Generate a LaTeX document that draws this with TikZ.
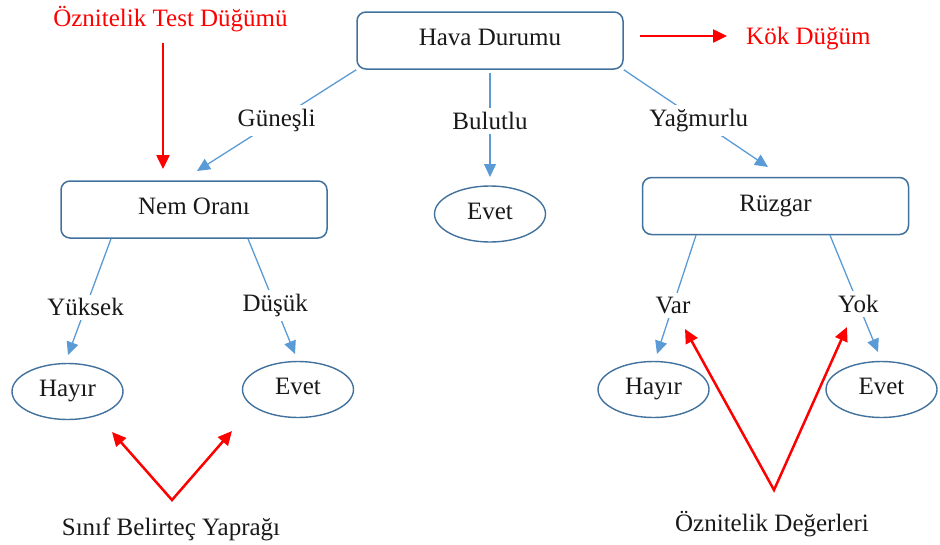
\documentclass[tikz,border=0pt]{standalone}
\usepackage{fontspec}
\setmainfont{Liberation Serif}
\usetikzlibrary{arrows.meta,shapes.geometric}
\definecolor{edgeblue}{HTML}{5B9BD5}
\definecolor{boxline}{HTML}{41719C}
\definecolor{inkred}{HTML}{FF0000}
\begin{document}
\begin{tikzpicture}[x=1pt,y=-1pt,
  font=\fontsize{25}{30}\selectfont,
  testbox/.style={draw=boxline, line width=1.5pt, rounded corners=9pt,
    minimum width=266pt, minimum height=57pt, inner sep=0pt, text=black!90,
    text height=16.5pt, text depth=6.5pt},
  leaf/.style={ellipse, draw=boxline, line width=1.4pt,
    minimum width=111pt, minimum height=56pt, inner sep=0pt, text=black!90,
    text height=16.5pt, text depth=6.5pt},
  branch/.style={draw=edgeblue, line width=1.3pt, -{Triangle[length=13pt,width=12pt]}},
  lbl/.style={fill=white, inner sep=4pt, text=black!90},
  note/.style={text=inkred, inner sep=0pt},
  caption/.style={text=black!90, inner sep=0pt},
  pointer/.style={draw=inkred, line width=2.5pt, -{Triangle[length=14pt,width=13pt]}},
  twopointer/.style={draw=inkred, line width=2.5pt,
    {Triangle[length=14pt,width=13pt]}-{Triangle[length=14pt,width=13pt]}},
]
\useasboundingbox (0,0) rectangle (940,544);

% decision nodes
\node[testbox] (hava) at (490,40.5) {Hava Durumu};
\node[testbox] (nem)  at (194,209.5) {Nem Oranı};
\node[testbox] (ruz)  at (775.5,206) {Rüzgar};

% leaves
\node[leaf] (evetB)  at (490,214)   {Evet};
\node[leaf] (hayirL) at (67.5,391.5) {Hayır};
\node[leaf] (evetL)  at (298,389.5) {Evet};
\node[leaf] (hayirR) at (653.5,389.5) {Hayır};
\node[leaf] (evetR)  at (881.5,389.5) {Evet};

% arrow tips of the branches
\coordinate (gTip) at (197,171);
\coordinate (bTip) at (490,177);
\coordinate (yTip) at (768,167);
\coordinate (ykTip) at (68,355);
\coordinate (dsTip) at (295,354);
\coordinate (vrTip) at (657,354);
\coordinate (ykrTip) at (878,352);

% branches with their values
\draw[branch] (hava.south west) -- node[lbl,pos=0.5]{Güneşli} (gTip);
\draw[branch] ([yshift=-3pt]hava.south) -- node[lbl,pos=0.46]{Bulutlu} (bTip);
\draw[branch] (hava.south east) -- node[lbl,pos=0.52]{Yağmurlu} (yTip);
\draw[branch] ([xshift=-83pt]nem.south) -- node[lbl,pos=0.59]{Yüksek} (ykTip);
\draw[branch] ([xshift=54pt]nem.south) -- node[lbl,pos=0.58]{Düşük} (dsTip);
\draw[branch] ([xshift=-79.5pt]ruz.south) -- node[lbl,pos=0.59]{Var} (vrTip);
\draw[branch] ([xshift=54.5pt]ruz.south) -- node[lbl,pos=0.59]{Yok} (ykrTip);

% annotations
\node[note, anchor=base] (otd) at (170.5,26) {Öznitelik Test Düğümü};
\coordinate (otdStart) at (163,43);
\coordinate (otdEnd) at (163,169);
\draw[pointer] (otdStart) -- (otdEnd);

\node[note, anchor=base west] (kok) at (746,44) {Kök Düğüm};
\coordinate (kokStart) at (640,36);
\coordinate (kokEnd) at (727,36);
\draw[pointer] (kokStart) -- (kokEnd);

\node[caption, anchor=base] (sby) at (171,535) {Sınıf Belirteç Yaprağı};
\coordinate (sbV) at (172,500);
\coordinate (sbL) at (112,432);
\coordinate (sbR) at (232,431);
\draw[twopointer, line join=miter] (sbL) -- (sbV) -- (sbR);

\node[caption, anchor=base] (ode) at (772,531) {Öznitelik Değerleri};
\coordinate (odV) at (774,490);
\coordinate (odL) at (685,329);
\coordinate (odR) at (847,327);
\draw[twopointer, line join=miter] (odL) -- (odV) -- (odR);
\end{tikzpicture}
\end{document}
